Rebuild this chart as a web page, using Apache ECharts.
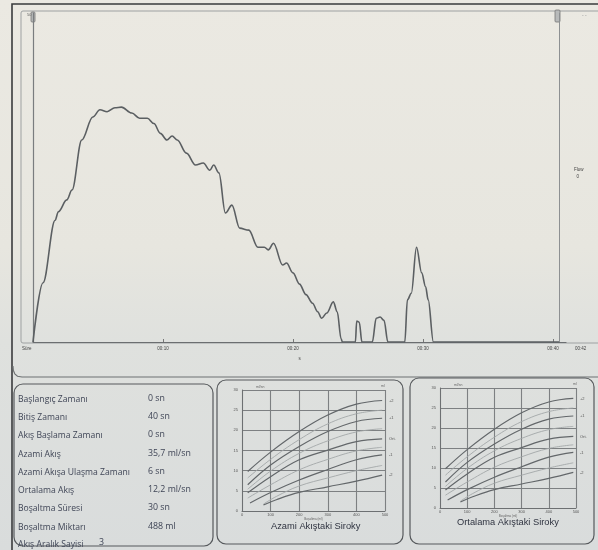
<!DOCTYPE html>
<html>
<head>
<meta charset="utf-8">
<script src="https://cdn.jsdelivr.net/npm/echarts@6/dist/echarts.min.js"></script>
<style>
html,body{margin:0;padding:0;background:#e4e5e0;}
#chart{width:598px;height:550px;}
</style>
</head>
<body>
<div id="chart"></div>
<script>
// ---- Uroflow curve (time in s, flow in ml/s) ----
const flowTimes = [0, 0.77, 1.7, 1.95, 2.6, 3.0, 3.75, 4.6, 5.15, 5.7, 6.3, 6.8, 7.6, 8.2, 8.8, 9.3, 9.8, 10.3, 10.7, 11.1, 11.8, 12.5, 13.1, 13.6, 13.9, 14.3, 14.8, 15.3, 15.9, 16.6, 17.3, 17.8, 18.1, 18.5, 19.2, 19.5, 20.0, 20.5, 21.0, 21.5, 21.9, 22.2, 22.6, 23.1, 23.4, 23.7, 23.8, 24.8, 24.9, 25.1, 25.3, 26.1, 26.4, 26.7, 27.0, 27.3, 28.6, 28.8, 29.1, 29.5, 29.9, 30.2, 30.4, 30.8, 40.5];
const flowValues = [0, 9.0, 18.5, 19.8, 21.6, 23.1, 30.7, 34.2, 35.3, 35.0, 35.6, 35.7, 34.8, 34.0, 34.0, 33.2, 31.7, 30.7, 31.3, 30.7, 28.7, 26.9, 27.2, 26.1, 26.9, 25.7, 19.6, 20.8, 17.3, 17.0, 14.4, 14.4, 14.0, 15.0, 11.7, 12.0, 10.5, 8.8, 7.2, 5.9, 4.6, 3.6, 4.4, 6.1, 4.6, 0.5, 0, 0, 3.2, 3.0, 0, 0, 3.6, 3.8, 3.3, 0, 0, 6.4, 7.4, 14.4, 10.5, 8.4, 6.4, 0, 0];
const timeTicks = ['00:10', '00:20', '00:30', '00:40'];
const cursorTime = 40.5;

// ---- Report values ----
const reportLabels = ['Başlangıç Zamanı', 'Bitiş Zamanı', 'Akış Başlama Zamanı', 'Azami Akış', 'Azami Akışa Ulaşma Zamanı', 'Ortalama Akış', 'Boşaltma Süresi', 'Boşaltma Miktarı'];
const reportValues = ['0 sn', '40 sn', '0 sn', '35,7 ml/sn', '6 sn', '12,2 ml/sn', '30 sn', '488 ml'];
const intervalLabel = 'Akış Aralık Sayisi';
const intervalValue = '3';

// ---- Siroky nomogram curves (volume ml -> flow) ----
const sirokyVol = [20, 100, 200, 300, 400, 490];
const sirokyVolLow = [28, 100, 200, 300, 400, 490];
const sirokyVolLowest = [75, 120, 200, 300, 400, 490];
const sirokyP2 = [9.8, 14.6, 19.7, 23.8, 26.5, 27.4];
const sirokyP1 = [6.5, 11.4, 16.0, 19.7, 22.2, 23.0];
const sirokyMean = [4.5, 8.5, 12.7, 15.1, 17.2, 17.9];
const sirokyM1 = [2.0, 4.6, 7.7, 10.3, 12.7, 13.9];
const sirokyM2 = [1.5, 2.8, 4.6, 6.0, 7.4, 8.9];
const sirokyL1 = [8.2, 12.8, 17.7, 21.6, 24.1, 25.0];
const sirokyL2 = [5.4, 9.9, 14.3, 17.4, 19.6, 20.4];
const sirokyL3 = [3.2, 6.5, 10.2, 12.8, 14.9, 15.8];
const sirokyL4 = [1.7, 3.6, 6.2, 8.2, 10.0, 11.3];
const sirokyLabels = ['+2', '+1', 'Ort.', '-1', '-2'];

function pairs(xs, ys) { return xs.map((x, i) => [x, ys[i]]); }

const chart = echarts.init(document.getElementById('chart'), null, {renderer: 'canvas'});

const dark = '#5b5f62';
const txt = '#3f4556';

function nomoSeries(idx) {
  const defs = [
    [sirokyVol, sirokyP2, true], [sirokyVol, sirokyL1, false],
    [sirokyVol, sirokyP1, true], [sirokyVol, sirokyL2, false],
    [sirokyVol, sirokyMean, true], [sirokyVol, sirokyL3, false],
    [sirokyVolLow, sirokyM1, true], [sirokyVolLowest, sirokyL4, false],
    [sirokyVolLowest, sirokyM2, true]
  ];
  return defs.map(d => ({
    type: 'line', xAxisIndex: idx, yAxisIndex: idx, smooth: 0.4, symbol: 'none', silent: true,
    data: pairs(d[0], d[1]),
    lineStyle: {color: d[2] ? '#63676a' : '#a3a7a8', width: d[2] ? 1.2 : 0.9}
  }));
}

function nomoAxes(idx) {
  return {
    x: {
      type: 'value', gridIndex: idx, min: 0, max: 500, interval: 100,
      axisLine: {show: true, lineStyle: {color: '#6d7072', width: 1}},
      axisTick: {show: false},
      splitLine: {show: true, lineStyle: {color: '#7d8082', width: 1.1}},
      axisLabel: {fontSize: 4, color: '#555', margin: 2},
      name: 'Boşaltma (ml)', nameLocation: 'middle', nameGap: 6, nameTextStyle: {fontSize: 3, color: '#666'}
    },
    y: {
      type: 'value', gridIndex: idx, min: 0, max: 30, interval: 5,
      axisLine: {show: true, lineStyle: {color: '#6d7072', width: 1}},
      axisTick: {show: false},
      splitLine: {show: true, lineStyle: {color: '#7d8082', width: 1.1}},
      axisLabel: {fontSize: 4, color: '#555', margin: 4},
      name: 'ml/sn', nameLocation: 'end', nameGap: 1, nameTextStyle: {fontSize: 3.5, color: '#666', align: 'left', padding: [0, 0, 0, 14]}
    }
  };
}
const n1 = nomoAxes(1), n2 = nomoAxes(2);

function nomoLabelGraphics(x0, yTop, h) {
  const ends = [sirokyP2, sirokyP1, sirokyMean, sirokyM1, sirokyM2].map(a => a[a.length - 1]);
  return ends.map((v, i) => ({
    type: 'text', left: x0, top: yTop + h - v / 30 * h - 2,
    style: {text: sirokyLabels[i], fontSize: 4, fill: '#555', fontFamily: 'Liberation Sans'}
  }));
}

const panelStroke = '#56595c';

const graphics = [
  {type: 'rect', z: -10, shape: {x: 0, y: 0, width: 598, height: 550},
   style: {fill: new echarts.graphic.LinearGradient(0, 0, 0, 1, [
     {offset: 0, color: '#ebe9e2'}, {offset: 0.45, color: '#e7e6df'},
     {offset: 0.62, color: '#dfe1de'}, {offset: 1, color: '#d9dcdc'}])}},
  {type: 'rect', z: -5, shape: {x: 12, y: 4, width: 590, height: 560}, style: {fill: 'none', stroke: '#3a3b3d', lineWidth: 1.6}},
  {type: 'rect', z: -5, shape: {x: 21, y: 11, width: 590, height: 332, r: 2}, style: {fill: 'none', stroke: '#9ea1a2', lineWidth: 1}},
  {type: 'polyline', z: -5, shape: {points: [[13, 366], [13.4, 370.5], [14.8, 373.8], [17.5, 376.2], [22, 377], [598, 377]]}, style: {fill: 'none', stroke: '#6d7072', lineWidth: 1.1}},
  {type: 'rect', shape: {x: 31, y: 12, width: 4, height: 10, r: 1}, style: {fill: '#b8baba', stroke: '#777', lineWidth: 0.8}},
  {type: 'rect', shape: {x: 555, y: 10, width: 5, height: 12, r: 1}, style: {fill: '#b8baba', stroke: '#777', lineWidth: 0.8}},
  {type: 'text', left: 27, top: 13, style: {text: '50', fontSize: 4, fill: '#666'}},
  {type: 'text', left: 582, top: 13, style: {text: '- -', fontSize: 5, fill: '#999'}},
  {type: 'text', left: 574, top: 166, style: {text: 'Flow\n  0', fontSize: 4.5, lineHeight: 7, fill: '#444', fontFamily: 'Liberation Sans'}},
  {type: 'text', left: 22, top: 346, style: {text: 'Süre', fontSize: 4.5, fill: '#444'}},
  {type: 'text', left: 575, top: 346, style: {text: '00:42', fontSize: 4.5, fill: '#444'}},
  {type: 'rect', shape: {x: 14, y: 384, width: 199, height: 162, r: 9}, style: {fill: 'none', stroke: panelStroke, lineWidth: 1.2}},
  {type: 'rect', shape: {x: 217, y: 380, width: 186, height: 164, r: 9}, style: {fill: 'none', stroke: panelStroke, lineWidth: 1.2}},
  {type: 'rect', shape: {x: 410, y: 378, width: 184, height: 166, r: 9}, style: {fill: 'none', stroke: panelStroke, lineWidth: 1.2}},
  {type: 'text', left: 271, top: 522, style: {text: 'Azami Akıştaki Siroky', fontSize: 9.3, fill: '#2f3340', fontFamily: 'Liberation Sans'}},
  {type: 'text', left: 457, top: 518, style: {text: 'Ortalama Akıştaki Siroky', fontSize: 9.3, fill: '#2f3340', fontFamily: 'Liberation Sans'}},
  {type: 'text', left: 381, top: 384, style: {text: 'ml', fontSize: 3.5, fill: '#666'}},
  {type: 'text', left: 573, top: 382, style: {text: 'ml', fontSize: 3.5, fill: '#666'}}
];

const rowY = [395, 413, 431, 450, 468, 486, 504, 523];
reportLabels.forEach((l, i) => {
  graphics.push({type: 'text', left: 18, top: rowY[i], style: {text: l, fontSize: 8.6, fill: txt, fontFamily: 'Open Sans'}});
  graphics.push({type: 'text', left: 148, top: rowY[i] - 1, style: {text: reportValues[i], fontSize: 8.8, fill: txt, fontFamily: 'Open Sans'}});
});
graphics.push({type: 'text', left: 18, top: 540, style: {text: intervalLabel, fontSize: 8.6, fill: txt, fontFamily: 'Open Sans'}});
graphics.push({type: 'text', left: 99, top: 538, style: {text: intervalValue, fontSize: 8.8, fill: txt, fontFamily: 'Open Sans'}});
nomoLabelGraphics(389, 390, 121).forEach(g => graphics.push(g));
nomoLabelGraphics(580, 388, 120).forEach(g => graphics.push(g));

const option = {
  animation: false,
  backgroundColor: 'transparent',
  grid: [
    {left: 33, top: 13, width: 533, height: 329},
    {left: 242, top: 390, width: 143, height: 121},
    {left: 440, top: 388, width: 136, height: 120}
  ],
  xAxis: [
    {type: 'value', gridIndex: 0, min: 0, max: 41, interval: 10,
     axisLine: {lineStyle: {color: '#6b6e70', width: 1.2}},
     axisTick: {show: true, inside: true, length: 3, lineStyle: {color: '#777'}},
     splitLine: {show: false},
     axisLabel: {fontSize: 4.5, color: '#444', margin: 4, showMaxLabel: false,
       formatter: v => v === 0 ? '' : (timeTicks[v / 10 - 1] || '')},
     name: 's', nameLocation: 'middle', nameGap: 11, nameTextStyle: {fontSize: 4.5, color: '#444'}},
    n1.x, n2.x
  ],
  yAxis: [
    {type: 'value', gridIndex: 0, min: 0, max: 50,
     axisLine: {show: true, lineStyle: {color: '#7a7d7f', width: 1.2}},
     axisTick: {show: false}, axisLabel: {show: false}, splitLine: {show: false}},
    n1.y, n2.y
  ],
  series: [
    {type: 'line', xAxisIndex: 0, yAxisIndex: 0, data: pairs(flowTimes, flowValues),
     smooth: 0.35, smoothMonotone: 'x', symbol: 'none',
     lineStyle: {color: dark, width: 1.6},
     markLine: {silent: true, symbol: 'none', label: {show: false},
       lineStyle: {color: '#8d9092', width: 1, type: 'solid'},
       data: [{xAxis: cursorTime}]}}
  ].concat(nomoSeries(1)).concat(nomoSeries(2)),
  graphic: graphics
};
chart.setOption(option);
</script>
</body>
</html>
